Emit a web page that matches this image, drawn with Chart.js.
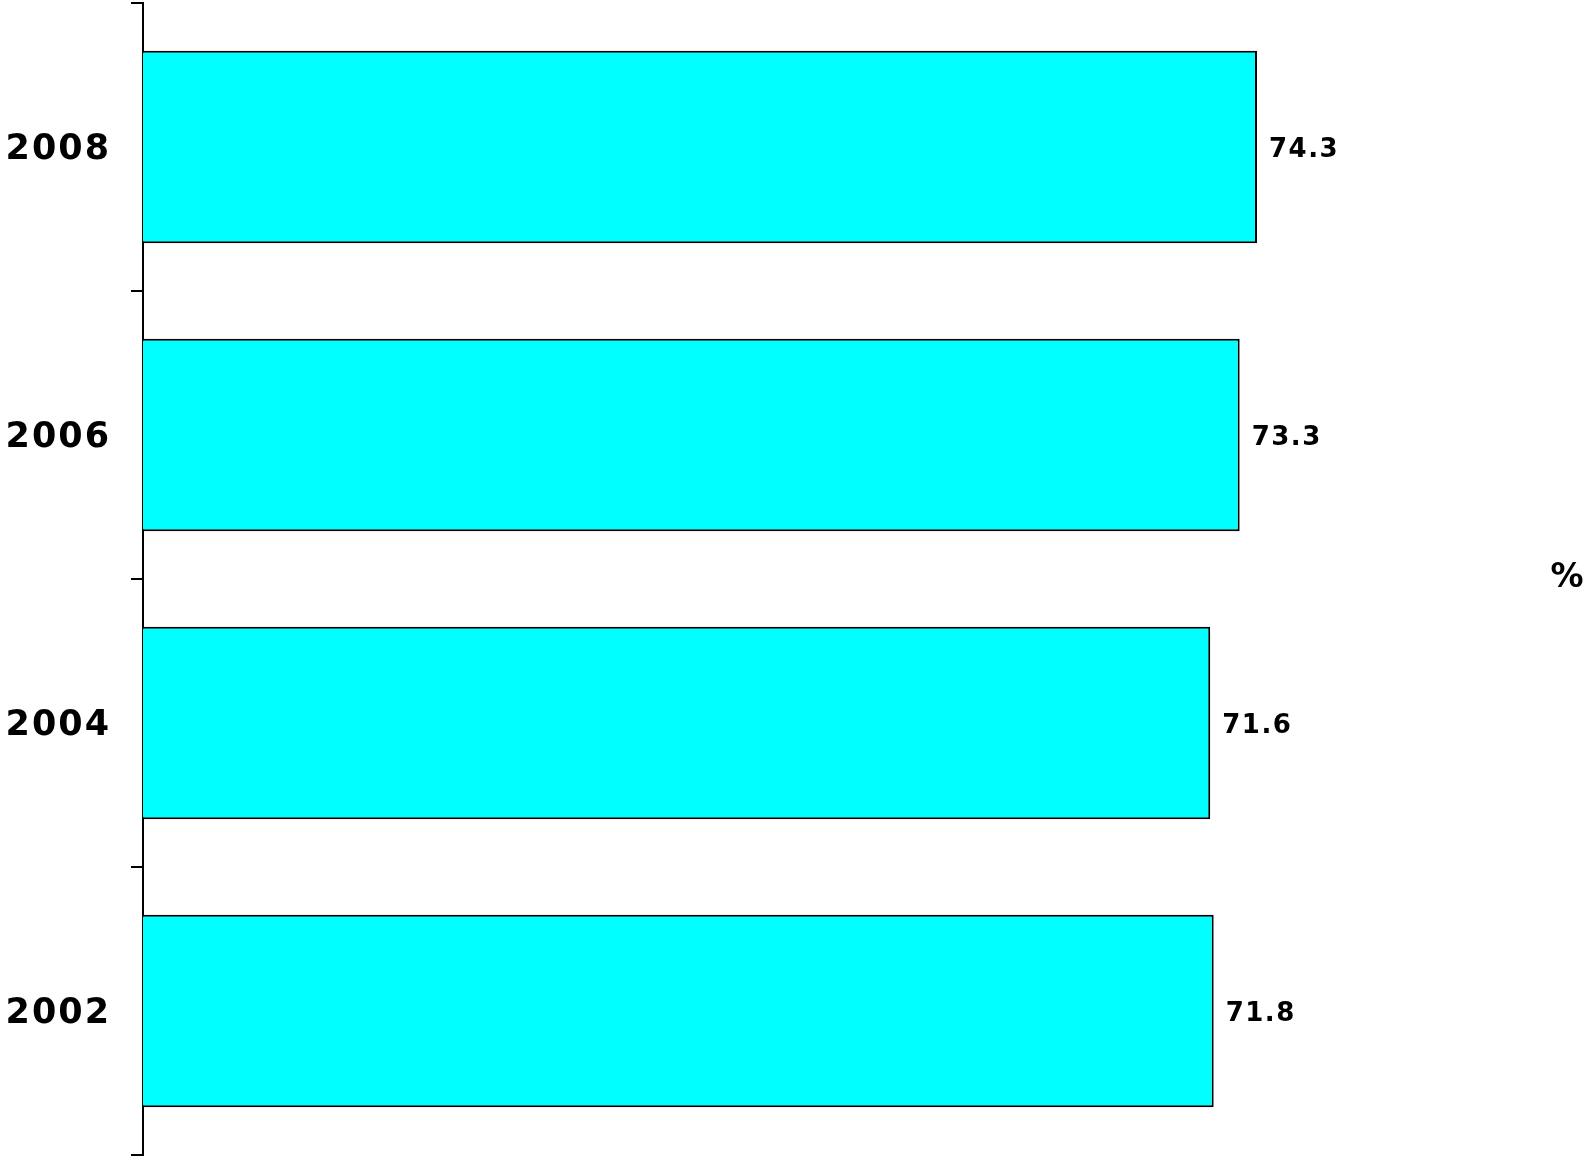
<!DOCTYPE html>
<html>
<head>
<meta charset="utf-8">
<script src="https://cdn.jsdelivr.net/npm/chart.js@4"></script>
<style>
  html, body { margin: 0; padding: 0; background: #fff; }
  #wrap { width: 1589px; height: 1159px; position: relative; }
</style>
</head>
<body>
<div id="wrap"><canvas id="c" width="1589" height="1159"></canvas></div>
<script>
const categories = ['2008', '2006', '2004', '2002'];
const values = [74.3, 73.3, 71.6, 71.8];
const valueLabels = ['74.3', '73.3', '71.6', '71.8'];
const unitLabel = '%';
const xMin = 10;
const xMax = 90;

const FONT = "'DejaVu Sans', Verdana, sans-serif";

const valueLabelPlugin = {
  id: 'valueLabels',
  afterDatasetsDraw(chart) {
    const ctx = chart.ctx;
    const meta = chart.getDatasetMeta(0);
    ctx.save();
    ctx.font = 'bold 26px ' + FONT;
    ctx.letterSpacing = '1.5px';
    ctx.fillStyle = '#000';
    ctx.textAlign = 'left';
    ctx.textBaseline = 'middle';
    meta.data.forEach((bar, i) => {
      ctx.fillText(valueLabels[i], bar.x + 12, bar.y + 3);
    });
    ctx.restore();
  }
};

const unitPlugin = {
  id: 'unitLabel',
  afterDraw(chart) {
    const ctx = chart.ctx;
    const a = chart.chartArea;
    ctx.save();
    ctx.letterSpacing = '0px';
    ctx.font = 'bold 33px ' + FONT;
    ctx.fillStyle = '#000';
    ctx.textAlign = 'center';
    ctx.textBaseline = 'middle';
    ctx.fillText(unitLabel, a.right + 38, (a.top + a.bottom) / 2 - 1);
    ctx.restore();
  }
};

const spacingPlugin = {
  id: 'spacing',
  beforeDraw(chart) { chart.ctx.letterSpacing = '2px'; },
  afterDraw(chart) { chart.ctx.letterSpacing = '0px'; }
};

new Chart(document.getElementById('c'), {
  type: 'bar',
  data: {
    labels: categories,
    datasets: [{
      data: values,
      backgroundColor: '#00FFFF',
      borderColor: '#000',
      borderWidth: 2,
      borderSkipped: false,
      barPercentage: 0.668,
      categoryPercentage: 1
    }]
  },
  options: {
    indexAxis: 'y',
    responsive: false,
    animation: false,
    devicePixelRatio: 1,
    layout: { padding: { top: 3, bottom: 4, left: 0, right: 60 } },
    plugins: {
      legend: { display: false },
      tooltip: { enabled: false },
      title: { display: false }
    },
    scales: {
      x: {
        display: false,
        min: xMin,
        max: xMax
      },
      y: {
        afterFit(scale) {
          scale.width = 143;
          scale.paddingTop = 0;
          scale.paddingBottom = 0;
        },
        grid: {
          display: true,
          drawOnChartArea: false,
          offset: true,
          tickLength: 12,
          color: '#000',
          lineWidth: 2
        },
        border: { display: true, color: '#000', width: 2 },
        ticks: {
          color: '#000',
          padding: 20,
          labelOffset: 3,
          font: { family: FONT, size: 35, weight: 'bold' }
        }
      }
    }
  },
  plugins: [spacingPlugin, valueLabelPlugin, unitPlugin]
});
</script>
</body>
</html>
